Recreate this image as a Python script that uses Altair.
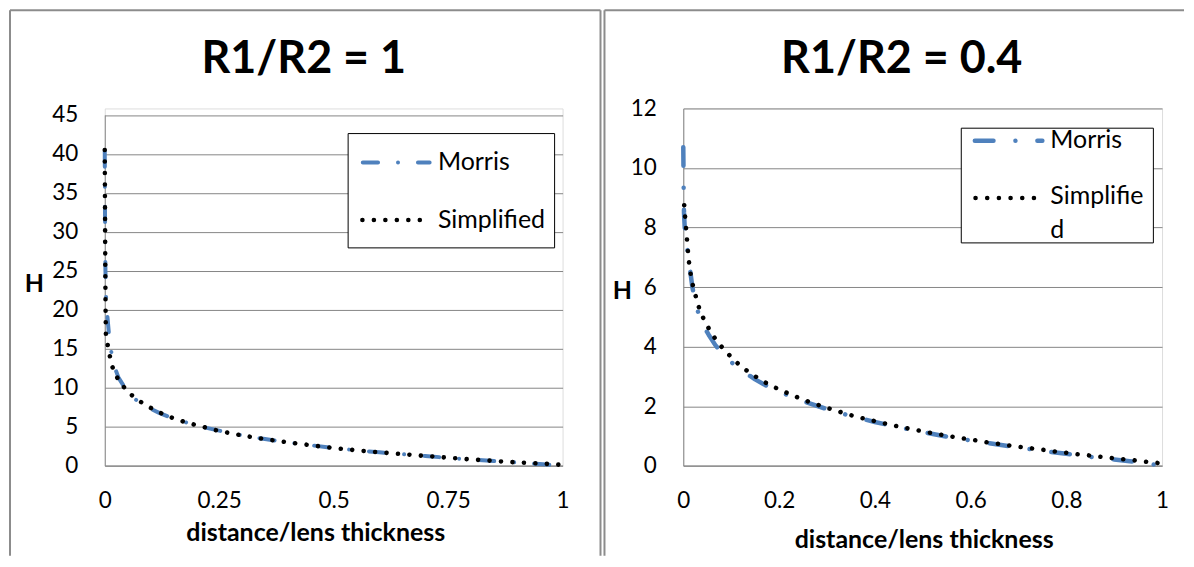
import altair as alt
import pandas as pd

# ---------------- data ----------------
titles = ["R1/R2 = 1", "R1/R2 = 0.4"]
series_names = ["Morris", "Simplified"]
x_title = "distance/lens thickness"
y_title = "H"

left_x_ticks = [0, 0.25, 0.5, 0.75, 1]
left_y_ticks = [0, 5, 10, 15, 20, 25, 30, 35, 40, 45]
right_x_ticks = [0, 0.2, 0.4, 0.6, 0.8, 1]
right_y_ticks = [0, 2, 4, 6, 8, 10, 12]

left_simpl_x = [0.0, 0.0004, 0.0008, 0.0012, 0.0018, 0.0025, 0.008, 0.013, 0.02, 0.033,
                0.049, 0.069, 0.09, 0.113, 0.136, 0.16, 0.185, 0.209, 0.235, 0.259,
                0.284, 0.309, 0.335, 0.36, 0.386, 0.412, 0.436, 0.462, 0.487, 0.514,
                0.539, 0.564, 0.59, 0.615, 0.64, 0.667, 0.692, 0.718, 0.744, 0.769,
                0.795, 0.821, 0.846, 0.871, 0.898, 0.923, 0.948, 0.973, 1.0]
left_simpl_h = [40.5, 35.0, 30.0, 25.0, 20.0, 16.7, 15.0, 13.5, 12.0, 10.75,
                9.56, 8.54, 7.77, 7.0, 6.4, 5.89, 5.43, 5.08, 4.66, 4.35,
                4.06, 3.8, 3.55, 3.33, 3.12, 2.91, 2.74, 2.54, 2.36, 2.19,
                2.04, 1.9, 1.77, 1.65, 1.53, 1.41, 1.29, 1.18, 1.05, 0.95,
                0.83, 0.73, 0.63, 0.53, 0.44, 0.36, 0.29, 0.21, 0.1]

left_morris_x = [0.0, 0.0003, 0.0006, 0.001, 0.0015, 0.003, 0.006, 0.009, 0.012, 0.016,
                 0.022, 0.03, 0.045, 0.065, 0.09, 0.12, 0.15, 0.2, 0.25, 0.3,
                 0.35, 0.4, 0.45, 0.5, 0.55, 0.6, 0.65, 0.7, 0.75, 0.8,
                 0.85, 0.9, 0.95, 1.0]
left_morris_h = [40.3, 36.0, 32.0, 28.0, 25.0, 21.5, 19.0, 17.0, 15.5, 14.0,
                 12.6, 11.3, 9.9, 8.6, 7.6, 6.75, 6.05, 5.15, 4.5, 3.9,
                 3.42, 3.0, 2.63, 2.27, 1.97, 1.72, 1.48, 1.25, 1.01, 0.8,
                 0.6, 0.41, 0.22, 0.0]

right_simpl_x = [0.002, 0.004, 0.006, 0.008, 0.01, 0.0125, 0.016, 0.021, 0.028, 0.035,
                 0.045, 0.057, 0.07, 0.086, 0.103, 0.121, 0.141, 0.161, 0.183, 0.205,
                 0.227, 0.25, 0.273, 0.297, 0.321, 0.345, 0.368, 0.392, 0.415, 0.44,
                 0.463, 0.487, 0.511, 0.535, 0.56, 0.583, 0.608, 0.633, 0.656, 0.68,
                 0.704, 0.729, 0.754, 0.779, 0.803, 0.827, 0.851, 0.876, 0.9, 0.924,
                 0.949, 0.974, 1.0]
right_simpl_h = [8.75, 8.32, 7.93, 7.54, 7.15, 6.76, 6.37, 5.98, 5.58, 5.19,
                 4.85, 4.5, 4.19, 3.88, 3.6, 3.33, 3.1, 2.89, 2.69, 2.53,
                 2.37, 2.22, 2.09, 1.96, 1.84, 1.72, 1.62, 1.53, 1.44, 1.35,
                 1.27, 1.2, 1.12, 1.05, 0.98, 0.92, 0.86, 0.79, 0.74, 0.68,
                 0.63, 0.58, 0.53, 0.47, 0.43, 0.38, 0.34, 0.29, 0.25, 0.21,
                 0.17, 0.12, 0.08]

right_morris_x = [0.0, 0.0004, 0.0008, 0.0015, 0.003, 0.006, 0.009, 0.014, 0.019, 0.025,
                  0.032, 0.042, 0.053, 0.067, 0.083, 0.1, 0.12, 0.15, 0.18, 0.21,
                  0.25, 0.3, 0.35, 0.4, 0.45, 0.5, 0.55, 0.6, 0.65, 0.7,
                  0.75, 0.8, 0.85, 0.9, 0.95, 1.0]
right_morris_h = [10.7, 10.0, 9.3, 8.5, 8.0, 7.6, 7.2, 6.6, 6.0, 5.5,
                  5.1, 4.7, 4.4, 4.05, 3.75, 3.48, 3.22, 2.9, 2.63, 2.42,
                  2.17, 1.9, 1.67, 1.47, 1.29, 1.13, 0.98, 0.85, 0.73, 0.61,
                  0.5, 0.4, 0.3, 0.21, 0.12, 0.0]

# ---------------- style ----------------
FONT = "Lato"
GRID = "#868686"
FRAME = "#8c8c8c"
BLUE = "#4F81BD"
DOT_DASH = [0.01, 11.5]
TICK_FS = 22.5
TEXT_FS = 25


def series_df(xs, hs):
    return pd.DataFrame({"x": xs, "h": hs, "i": list(range(len(xs)))})


def one():
    return pd.DataFrame({"k": [0]})


def panel(cfg):
    W, H = cfg["w"], cfg["h"]
    xs = alt.Scale(domain=[0, 1], nice=False, zero=False)
    ys = alt.Scale(domain=[0, cfg["ymax"]], nice=False, range=[H, cfg["ytop"]])
    x_axis = alt.Axis(values=cfg["xticks"], format=".2~g", grid=False, ticks=False,
                      domainColor=GRID, domainWidth=1, labelFont=FONT, labelFontSize=TICK_FS,
                      labelColor="black", labelPadding=cfg["xlabpad"], labelFlush=False,
                      labelOverlap=False, title=x_title, titleFont=FONT, titleFontSize=TEXT_FS,
                      titleFontWeight="bold", titleColor="black", titleX=cfg["xtx"],
                      titleY=cfg["xty"], titleAlign="center", titleBaseline="middle",
                      titleAnchor="start")
    y_axis = alt.Axis(values=cfg["yticks"], format="d", grid=True, gridColor=GRID, gridWidth=1,
                      ticks=False, domainColor=GRID, domainWidth=1, labelFont=FONT,
                      labelFontSize=TICK_FS, labelColor="black", labelPadding=27,
                      labelOverlap=False, title=y_title, titleAngle=0, titleFont=FONT,
                      titleFontSize=TEXT_FS, titleFontWeight="bold", titleColor="black",
                      titleX=cfg["ytx"], titleY=cfg["yty"], titleAlign="center",
                      titleBaseline="middle", titleAnchor="start")

    morris = alt.Chart(series_df(cfg["mx"], cfg["mh"])).mark_line(
        color=BLUE, strokeWidth=cfg["mw"], strokeDash=cfg["mdash"], strokeCap="round",
        strokeJoin="round"
    ).encode(
        x=alt.X("x:Q", scale=xs, axis=x_axis),
        y=alt.Y("h:Q", scale=ys, axis=y_axis),
        order="i:Q",
    )
    simpl = alt.Chart(series_df(cfg["sx"], cfg["sh"])).mark_line(
        color="black", strokeWidth=4.6, strokeDash=DOT_DASH, strokeCap="round",
        strokeJoin="round"
    ).encode(
        x=alt.X("x:Q", scale=xs, axis=x_axis),
        y=alt.Y("h:Q", scale=ys, axis=y_axis),
        order="i:Q",
    )

    title = alt.Chart(pd.DataFrame({"t": [cfg["title"]]})).mark_text(
        font=FONT, fontSize=45, fontWeight="bold", color="black", align="center",
        baseline="alphabetic"
    ).encode(text="t:N", x=alt.value(cfg["tx"]), y=alt.value(cfg["ty"]))

    # panel frame (left, top, right edges)
    fr = cfg["frame"]
    frame_l = alt.Chart(one()).mark_rule(color=FRAME, strokeWidth=2).encode(
        x=alt.value(fr[0]), y=alt.value(fr[2]), y2=alt.value(fr[3]))
    frame_t = alt.Chart(one()).mark_rule(color=FRAME, strokeWidth=2).encode(
        x=alt.value(fr[0]), x2=alt.value(fr[1]), y=alt.value(fr[2]))
    layers = [frame_l, frame_t]
    if cfg["frame_right"]:
        layers.append(alt.Chart(one()).mark_rule(color=FRAME, strokeWidth=2).encode(
            x=alt.value(fr[1]), y=alt.value(fr[2]), y2=alt.value(fr[3])))

    # legend
    lg = cfg["legend"]
    box = alt.Chart(one()).mark_rect(fill="white", stroke="black", strokeWidth=1).encode(
        x=alt.value(lg["box"][0]), x2=alt.value(lg["box"][1]),
        y=alt.value(lg["box"][2]), y2=alt.value(lg["box"][3]))
    leg_m = alt.Chart(one()).mark_rule(
        color=BLUE, strokeWidth=cfg["mw"], strokeDash=cfg["mdash"], strokeCap="round"
    ).encode(x=alt.value(lg["m"][0]), x2=alt.value(lg["m"][1]), y=alt.value(lg["m"][2]))
    leg_s = alt.Chart(one()).mark_rule(
        color="black", strokeWidth=4.6, strokeDash=[0.01, lg["sgap"]], strokeCap="round"
    ).encode(x=alt.value(lg["s"][0]), x2=alt.value(lg["s"][1]), y=alt.value(lg["s"][2]))
    lab_m = alt.Chart(pd.DataFrame({"t": [series_names[0]]})).mark_text(
        font=FONT, fontSize=TEXT_FS, color="black", align="left", baseline="alphabetic"
    ).encode(text="t:N", x=alt.value(lg["lx"]), y=alt.value(lg["my"]))
    lab_s = alt.Chart(pd.DataFrame({"t": [lg["stext"]]})).mark_text(
        font=FONT, fontSize=TEXT_FS, color="black", align="left", baseline="alphabetic",
        lineBreak="\n", lineHeight=34
    ).encode(text="t:N", x=alt.value(lg["lx"]), y=alt.value(lg["sy"]))

    return alt.layer(*layers, morris, simpl, box, leg_m, leg_s, lab_m, lab_s, title).properties(
        width=W, height=H)


# both panels share the same plot-area origin row (page y 107.5); the left one
# starts its value range 6.5 px lower, as in the reference
left_cfg = dict(
    w=459, h=358.2, ytop=6.5, ymax=45, xticks=left_x_ticks, yticks=left_y_ticks,
    xlabpad=24, xtx=211, xty=67, ytx=-71, yty=175.5,
    mx=left_morris_x, mh=left_morris_h, sx=left_simpl_x, sh=left_simpl_h,
    mw=4, mdash=[15.3, 20, 0.01, 20],
    title=titles[0], tx=199.5, ty=-35.5,
    frame=[-95, 497, -98.5, 448.5], frame_right=True,
    legend=dict(box=[244, 451, 25.2, 139.8], m=[258.7, 325.7, 54.2],
                s=[258.3, 316.5, 111.8], sgap=11.5, lx=334, my=61.8, sy=119.8,
                stext=series_names[1]),
)
right_cfg = dict(
    w=480, h=358.2, ytop=0, ymax=12, xticks=right_x_ticks, yticks=right_y_ticks,
    xlabpad=24, xtx=241, xty=74, ytx=-61.5, yty=182.5,
    mx=right_morris_x, mh=right_morris_h, sx=right_simpl_x, sh=right_simpl_h,
    mw=4.5, mdash=[18.7, 22, 0.01, 22],
    title=titles[1], tx=219, ty=-35.5,
    frame=[-79, 502, -98.5, 448.5], frame_right=False,
    legend=dict(box=[278.7, 471.3, 19.8, 134.8], m=[292.3, 360, 32.5],
                s=[293, 353, 89.8], sgap=11.7, lx=368, my=39.8, sy=95.8,
                stext="Simplifie\nd"),
)

chart = alt.hconcat(panel(left_cfg), panel(right_cfg), spacing=0,
                    padding={"left": 0, "top": 0, "right": 0, "bottom": 0}).configure_view(
    stroke=None).configure(background="white")

chart.save("out.html", embed_options={"renderer": "svg", "actions": False})
